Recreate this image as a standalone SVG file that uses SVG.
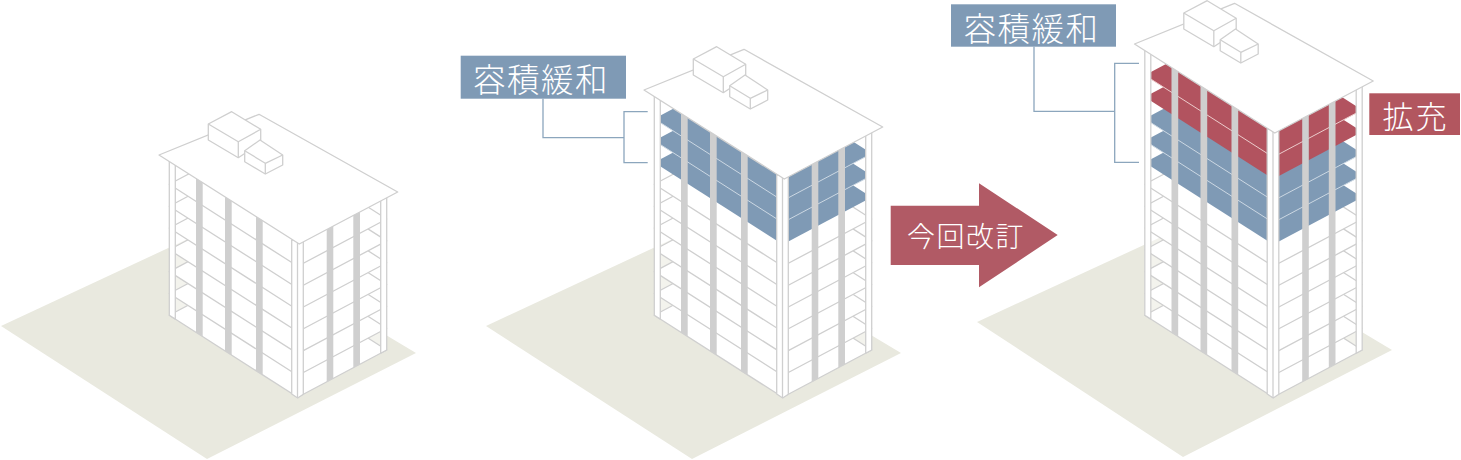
<svg xmlns="http://www.w3.org/2000/svg" xmlns:xlink="http://www.w3.org/1999/xlink" width="1461" height="460" viewBox="0 0 1461 460">
<style>
.ground{fill:#e9e9df}
.pw{fill:#fff;stroke:#cfcfcf;stroke-width:1.3;stroke-linejoin:round}
.pb{fill:#7f9ab5}
.pr{fill:#b2535f}
.lb{fill:none;stroke:#ccd8e3;stroke-width:1}
.lr{fill:none;stroke:#eccccc;stroke-width:1}
.col{fill:#cfcfcf}
.post{fill:#fff;stroke:#cfcfcf;stroke-width:1.3;stroke-linejoin:round}
.roof{fill:#fff;stroke:#cfcfcf;stroke-width:1.3;stroke-linejoin:round}
.conn{fill:none;stroke:#8ca6bd;stroke-width:1.3}
.tag-b{fill:#7f9ab5}
.tag-r{fill:#b2565f}
.arrow{fill:#b15a65}
.haze{fill:#fff;opacity:.45}
text{fill:#fff;font-family:"Noto Sans CJK JP","Noto Sans CJK SC",sans-serif;font-weight:300;text-anchor:middle;dominant-baseline:central}
</style>
<defs>
<polygon id="plate" points="0,0 128.4,82 217.4,34.7 89,-47.3"/>
<polyline id="edge" points="0,0 128.4,82 217.4,34.7"/>
<g id="roof">
<polygon class="roof" points="159,155 259,114.3 397.7,192 299.3,244"/>
<polygon class="roof" points="208.3,124 231.7,111.7 260.7,129.3 260.7,143 238.3,157.7 208.3,140"/>
<polyline class="roof" style="fill:none" points="208.3,124 238.3,141.7 260.7,129.3"/>
<line class="roof" x1="238.3" y1="141.7" x2="238.3" y2="157.7"/>
<polygon class="roof" points="244.7,150.7 260,140 282.7,155 282.7,165 265.3,174 244.7,161.7"/>
<polyline class="roof" style="fill:none" points="244.7,150.7 265.3,163.3 282.7,155"/>
<line class="roof" x1="265.3" y1="163.3" x2="265.3" y2="174"/>
</g>
<g id="floors">
<polygon class="haze" points="169.3,230 215,230 215,344 169.3,315.3"/>
<polygon class="haze" points="345,310 386.7,310 386.7,350 345,372"/>
<use href="#plate" class="pw" transform="translate(169.3,315.3)"/>
<use href="#plate" class="pw" transform="translate(169.3,293.5)"/>
<use href="#plate" class="pw" transform="translate(169.3,271.6)"/>
<use href="#plate" class="pw" transform="translate(169.3,249.8)"/>
<use href="#plate" class="pw" transform="translate(169.3,228)"/>
<use href="#plate" class="pw" transform="translate(169.3,206.2)"/>
<use href="#plate" class="pw" transform="translate(169.3,184.3)"/>
</g>
</defs>

<g id="grounds">
<polygon class="ground" points="1,326 209,229 416,353 207,459"/>
<polygon class="ground" points="486,326 694,229 901,353 692,459"/>
<polygon class="ground" points="977,322 1185,226 1392,350 1183,457"/>
</g>

<g id="building-1">
<use href="#floors"/>
<polygon class="col" points="196,175 202.7,175 202.7,336.6 196,332.4"/>
<polygon class="col" points="225,195 231.7,195 231.7,355.2 225,350.9"/>
<polygon class="col" points="256,214 262.7,214 262.7,375 256,370.7"/>
<polygon class="col" points="326.7,223 333.3,223 333.3,378.4 326.7,381.9"/>
<polygon class="col" points="353.3,209 360,209 360,364.2 353.3,367.8"/>
<polygon class="post" points="169.3,160 175.3,160 175.3,319.1 169.3,315.3"/>
<polygon class="post" points="380.7,195 386.7,195 386.7,350 380.7,353.2"/>
<polygon class="post" points="291.7,240 303.3,240 303.3,394.3 297.7,398 291.7,394"/>
<line class="post" x1="297.5" y1="240" x2="297.5" y2="398"/>
<use href="#roof"/>
</g>

<g id="building-2" transform="translate(485,0)">
<use href="#floors"/>
<use href="#plate" class="pb" transform="translate(169.3,162.5)"/>
<use href="#plate" class="pb" transform="translate(169.3,140.7)"/>
<use href="#plate" class="pb" transform="translate(169.3,118.8)"/>
<use href="#edge" class="lb" transform="translate(169.3,140.7)"/>
<use href="#edge" class="lb" transform="translate(169.3,118.8)"/>
<polygon class="col" points="196,110 202.7,110 202.7,336.6 196,332.4"/>
<polygon class="col" points="225,130 231.7,130 231.7,355.2 225,350.9"/>
<polygon class="col" points="256,149 262.7,149 262.7,375 256,370.7"/>
<polygon class="col" points="326.7,158 333.3,158 333.3,378.4 326.7,381.9"/>
<polygon class="col" points="353.3,144 360,144 360,364.2 353.3,367.8"/>
<polygon class="post" points="169.3,95 175.3,95 175.3,319.1 169.3,315.3"/>
<polygon class="post" points="380.7,130 386.7,130 386.7,350 380.7,353.2"/>
<polygon class="post" points="291.7,175 303.3,175 303.3,394.3 297.7,398 291.7,394"/>
<line class="post" x1="297.5" y1="175" x2="297.5" y2="398"/>
<use href="#roof" transform="translate(0,-65)"/>
</g>

<g id="building-3" transform="translate(975.5,0)">
<use href="#floors"/>
<use href="#plate" class="pb" transform="translate(169.3,162.5)"/>
<use href="#plate" class="pb" transform="translate(169.3,140.7)"/>
<use href="#plate" class="pb" transform="translate(169.3,118.8)"/>
<use href="#plate" class="pr" transform="translate(169.3,97)"/>
<use href="#plate" class="pr" transform="translate(169.3,75.2)"/>
<use href="#edge" class="lb" transform="translate(169.3,140.7)"/>
<use href="#edge" class="lb" transform="translate(169.3,118.8)"/>
<use href="#edge" class="lr" transform="translate(169.3,75.2)"/>
<polygon class="col" points="196,64 202.7,64 202.7,336.6 196,332.4"/>
<polygon class="col" points="225,84 231.7,84 231.7,355.2 225,350.9"/>
<polygon class="col" points="256,103 262.7,103 262.7,375 256,370.7"/>
<polygon class="col" points="326.7,112 333.3,112 333.3,378.4 326.7,381.9"/>
<polygon class="col" points="353.3,98 360,98 360,364.2 353.3,367.8"/>
<polygon class="post" points="169.3,49 175.3,49 175.3,319.1 169.3,315.3"/>
<polygon class="post" points="380.7,84 386.7,84 386.7,350 380.7,353.2"/>
<polygon class="post" points="291.7,129 303.3,129 303.3,394.3 297.7,398 291.7,394"/>
<line class="post" x1="297.5" y1="129" x2="297.5" y2="398"/>
<use href="#roof" transform="translate(0,-111)"/>
</g>

<g id="connectors">
<polyline class="conn" points="543,98.7 543,137.7 624,137.7"/>
<polyline class="conn" points="647.7,111.7 624,111.7 624,162.7 647.7,162.7"/>
<polyline class="conn" points="1034,46.7 1034,111.3 1114.7,111.3"/>
<polyline class="conn" points="1139,63.3 1114.7,63.3 1114.7,162.3 1139,162.3"/>
</g>

<g id="label-2">
<rect class="tag-b" x="460.7" y="55.7" width="165.3" height="43"/>
<text x="541" y="77" font-size="32.5" letter-spacing="1.5">容積緩和</text>
</g>
<g id="label-3">
<rect class="tag-b" x="951" y="4.3" width="165" height="42.4"/>
<text x="1031.5" y="26" font-size="32.5" letter-spacing="1.5">容積緩和</text>
</g>
<g id="label-expand">
<rect class="tag-r" x="1369.3" y="93.3" width="90.7" height="41.7"/>
<text x="1415.5" y="114" font-size="31" letter-spacing="2">拡充</text>
</g>
<g id="arrow-revision">
<polygon class="arrow" points="890.7,205.7 979,205.7 979,183.3 1057.7,235 979,287.3 979,265 890.7,265"/>
<text x="966" y="234.5" font-size="28" letter-spacing="1.5">今回改訂</text>
</g>
</svg>
